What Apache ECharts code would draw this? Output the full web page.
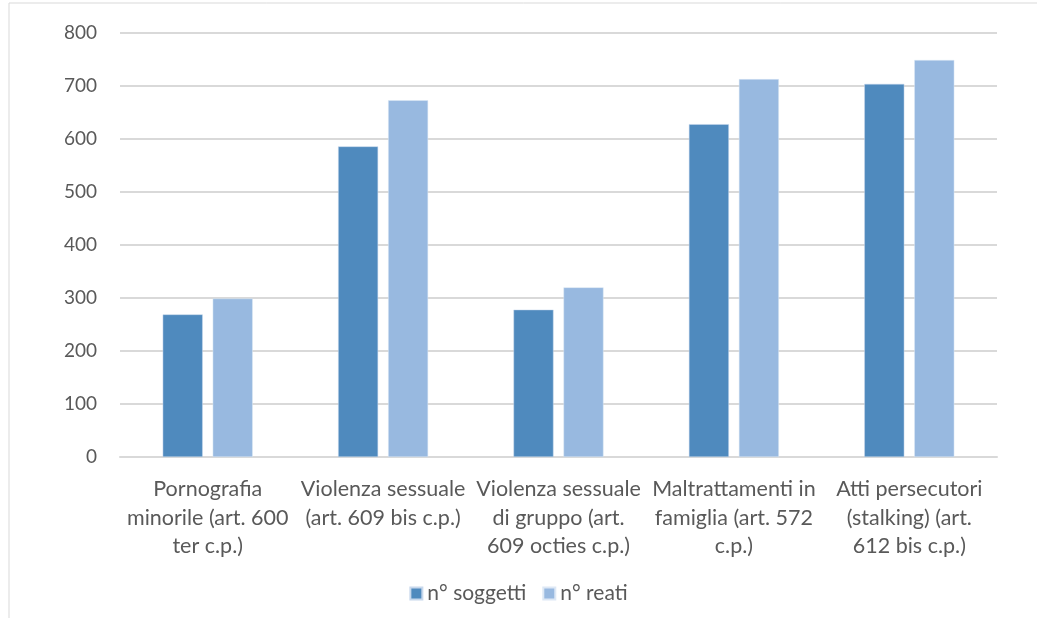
<!DOCTYPE html>
<html>
<head>
<meta charset="utf-8">
<script src="https://cdn.jsdelivr.net/npm/echarts@6/dist/echarts.min.js"></script>
<style>
html,body{margin:0;padding:0;background:#fff;}
#c{width:1037px;height:618px;}
</style>
</head>
<body>
<div id="c"></div>
<script>
const categories = [
  "Pornografia\nminorile (art. 600\nter c.p.)",
  "Violenza sessuale\n(art. 609 bis c.p.)",
  "Violenza sessuale\ndi gruppo (art.\n609 octies c.p.)",
  "Maltrattamenti in\nfamiglia (art. 572\nc.p.)",
  "Atti persecutori\n(stalking) (art.\n612 bis c.p.)"
];
const seriesNames = ["n° soggetti", "n° reati"];
const soggetti = [269, 586, 278, 628, 704];
const reati = [299, 673, 320, 713, 749];

const FONT = "Lato";
const TXT = "#595959";
const chart = echarts.init(document.getElementById('c'), null, {renderer: 'canvas'});
chart.setOption({
  animation: false,
  backgroundColor: '#ffffff',
  textStyle: {fontFamily: FONT},
  graphic: [{
    type: 'rect', silent: true, z: -1,
    shape: {x: 9, y: 3, width: 1200, height: 800},
    style: {fill: 'none', stroke: '#d9d9d9', lineWidth: 1}
  }],
  grid: {left: 120, right: 40, top: 33, bottom: 161, containLabel: false},
  legend: {
    bottom: 9, left: 'center',
    itemWidth: 12, itemHeight: 12, itemGap: 16,
    icon: 'rect',
    textStyle: {color: TXT, fontSize: 21, fontFamily: FONT},
    data: seriesNames
  },
  xAxis: {
    type: 'category',
    data: categories,
    axisLine: {lineStyle: {color: '#d9d9d9', width: 2}},
    axisTick: {show: false},
    axisLabel: {color: TXT, fontSize: 21.5, fontFamily: FONT, lineHeight: 28.5, margin: 18, interval: 0}
  },
  yAxis: {
    type: 'value', min: 0, max: 800, interval: 100,
    axisLine: {show: false},
    axisTick: {show: false},
    splitLine: {lineStyle: {color: '#d9d9d9', width: 2}},
    axisLabel: {color: TXT, fontSize: 19, fontFamily: FONT, margin: 23}
  },
  series: [
    {name: seriesNames[0], type: 'bar', data: soggetti, barWidth: 40, barGap: '25%',
     itemStyle: {color: '#4f8abe', borderColor: '#c8d8ec', borderWidth: 0.5}},
    {name: seriesNames[1], type: 'bar', data: reati, barWidth: 40, barGap: '25%',
     itemStyle: {color: '#98b9e0', borderColor: '#dde8f5', borderWidth: 0.5}}
  ]
});
</script>
</body>
</html>
